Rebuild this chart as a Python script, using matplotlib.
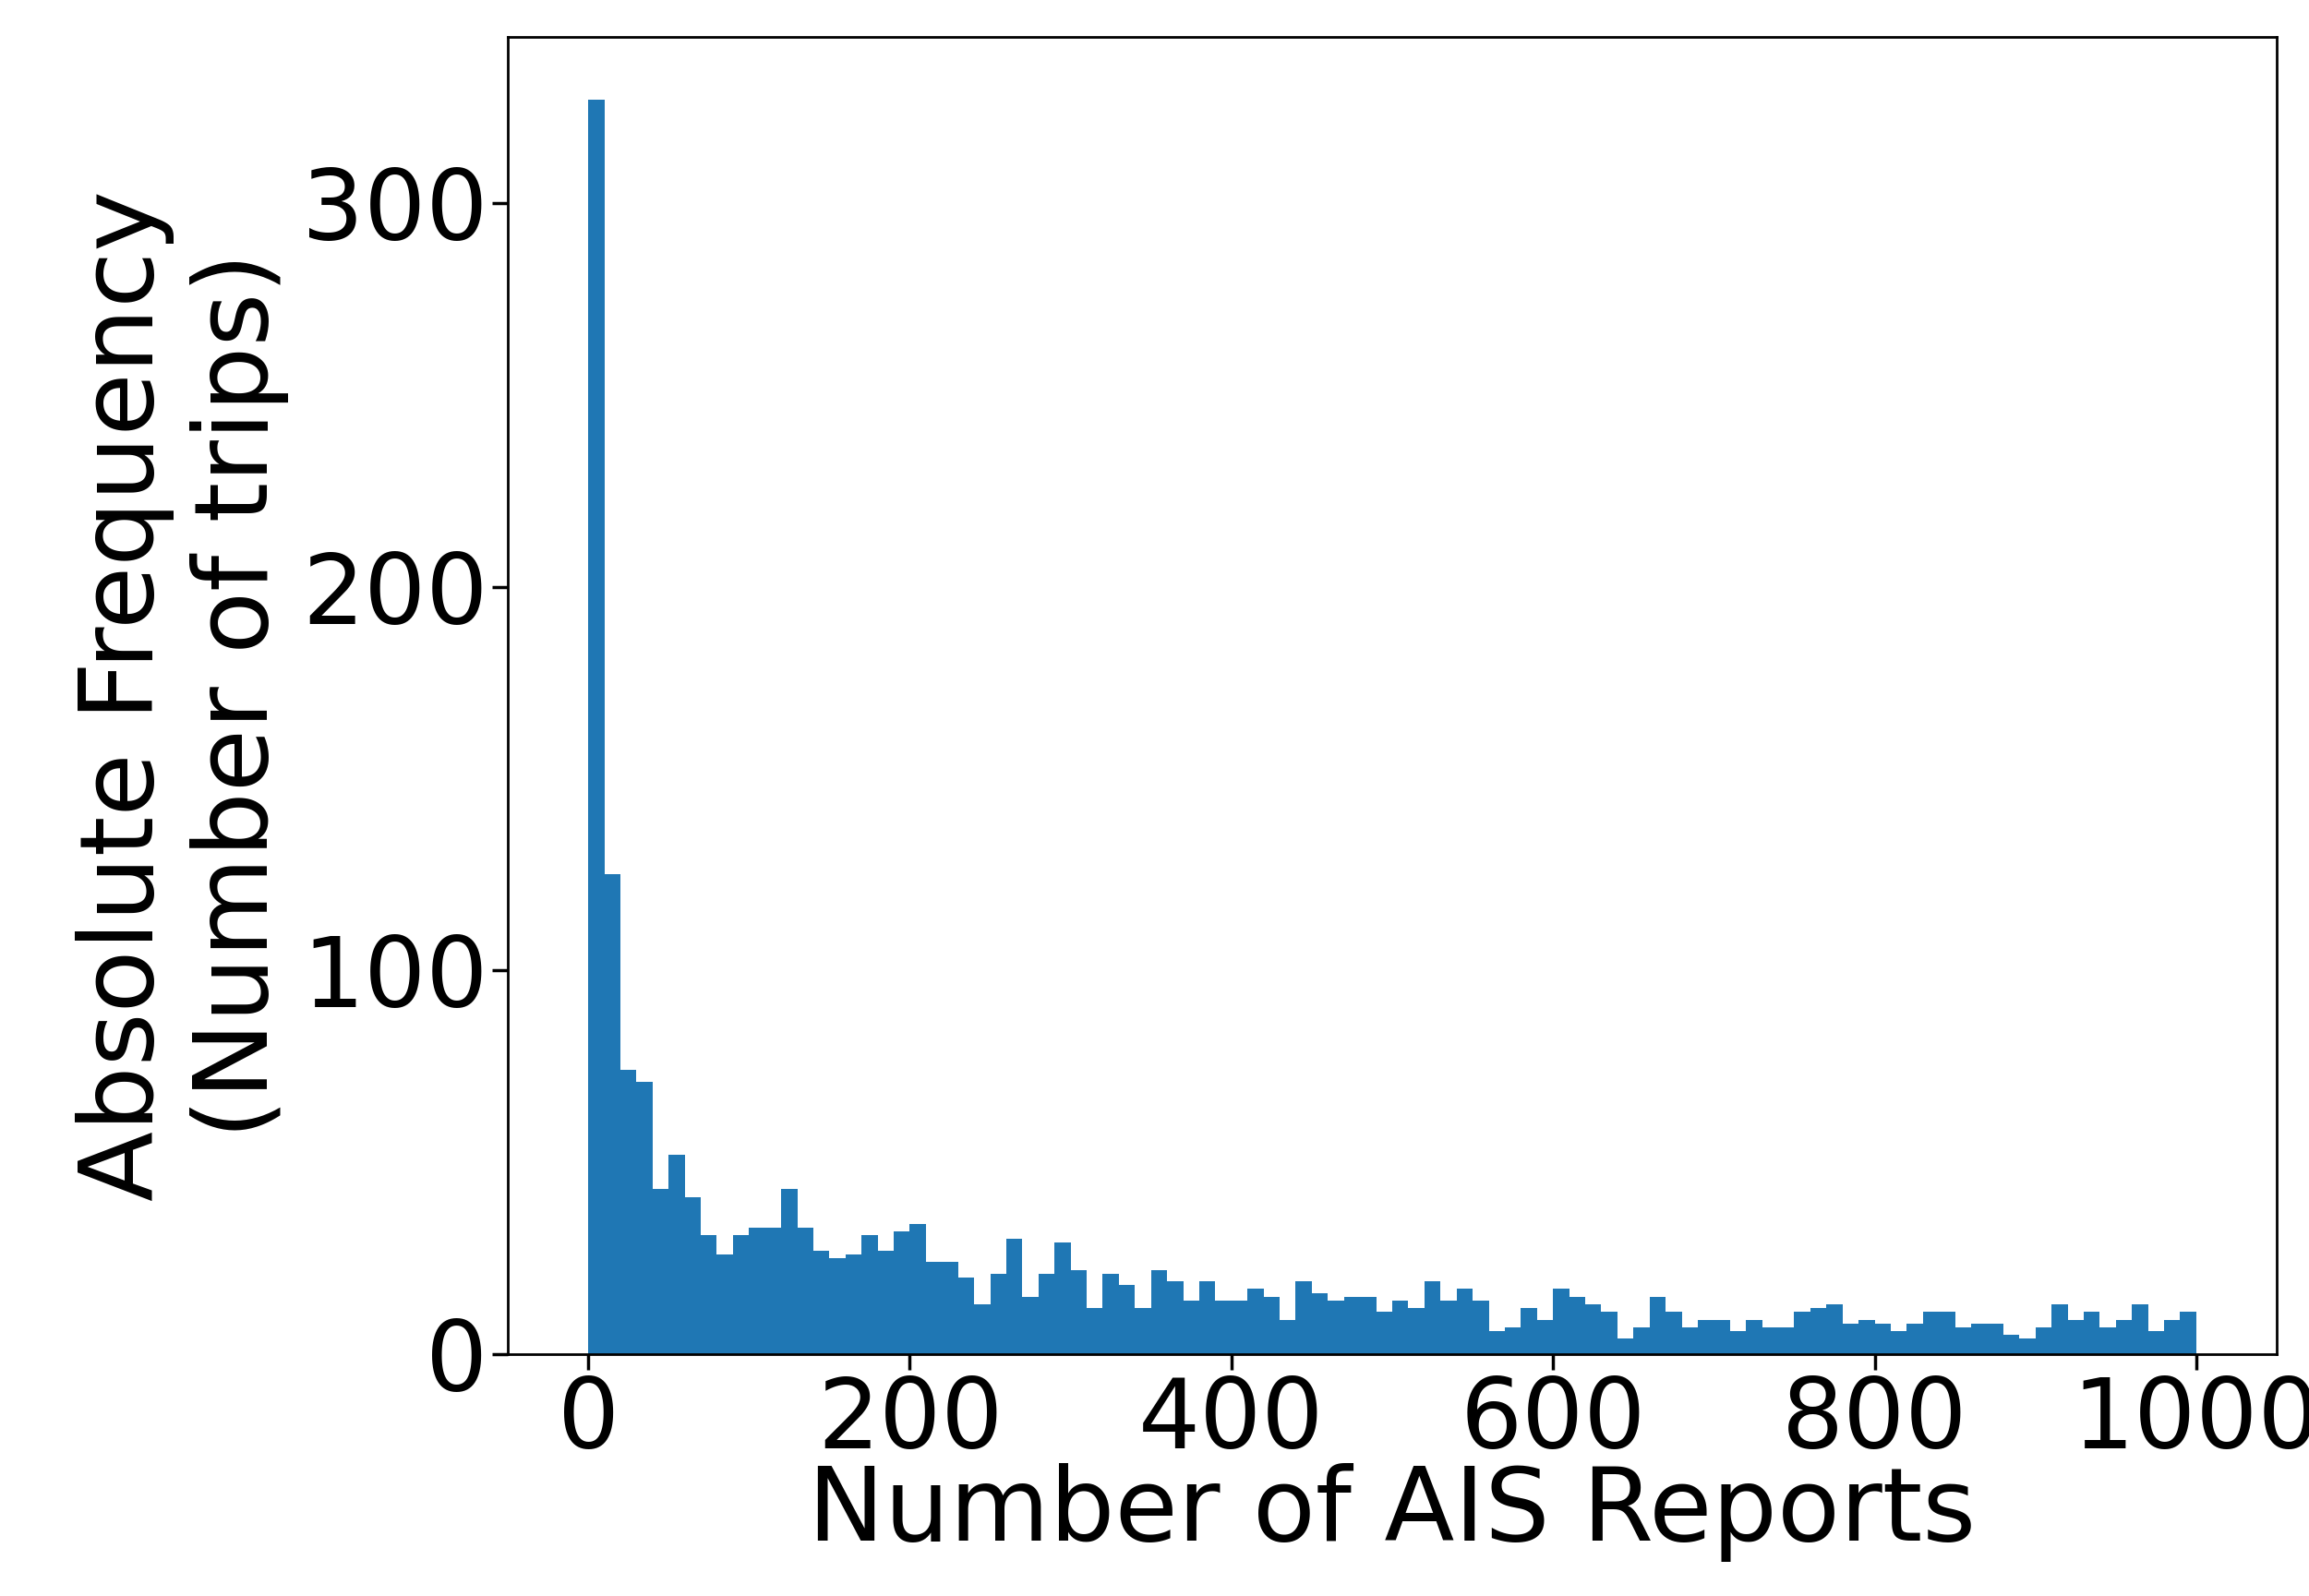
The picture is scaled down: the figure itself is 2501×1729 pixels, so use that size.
import numpy as np
import matplotlib
matplotlib.use("Agg")
import matplotlib.pyplot as plt

counts = [327, 125, 74, 71, 43, 52, 41, 31, 26, 31,
          33, 33, 43, 33, 27, 25, 26, 31, 27, 32,
          34, 24, 24, 20, 13, 21, 30, 15, 21, 29,
          22, 12, 21, 18, 12, 22, 19, 14, 19, 14,
          14, 17, 15, 9, 19, 16, 14, 15, 15, 11,
          14, 12, 19, 14, 17, 14, 6, 7, 12, 9,
          17, 15, 13, 11, 4, 7, 15, 11, 7, 9,
          9, 6, 9, 7, 7, 11, 12, 13, 8, 9,
          8, 6, 8, 11, 11, 7, 8, 8, 5, 4,
          7, 13, 9, 11, 7, 9, 13, 6, 9, 11]
bin_edges = np.linspace(0, 1000, len(counts) + 1)
centers = (bin_edges[:-1] + bin_edges[1:]) / 2

fig = plt.figure(figsize=(25.01, 17.29), dpi=100)
ax = fig.add_axes([550/2501, 1 - 1467/1729, (2466-550)/2501, (1467-40)/1729])
ax.hist(centers, bins=bin_edges, weights=counts, color="#1f77b4")
ax.set_xlabel("Number of AIS Reports", fontsize=80, labelpad=-4)
ax.set_ylabel("Absolute Frequency\n(Number of trips)", fontsize=80, labelpad=10)
ax.tick_params(labelsize=76, width=2.5, length=12)
for s in ax.spines.values():
    s.set_linewidth(2)
fig.savefig("out.png", dpi=100)
